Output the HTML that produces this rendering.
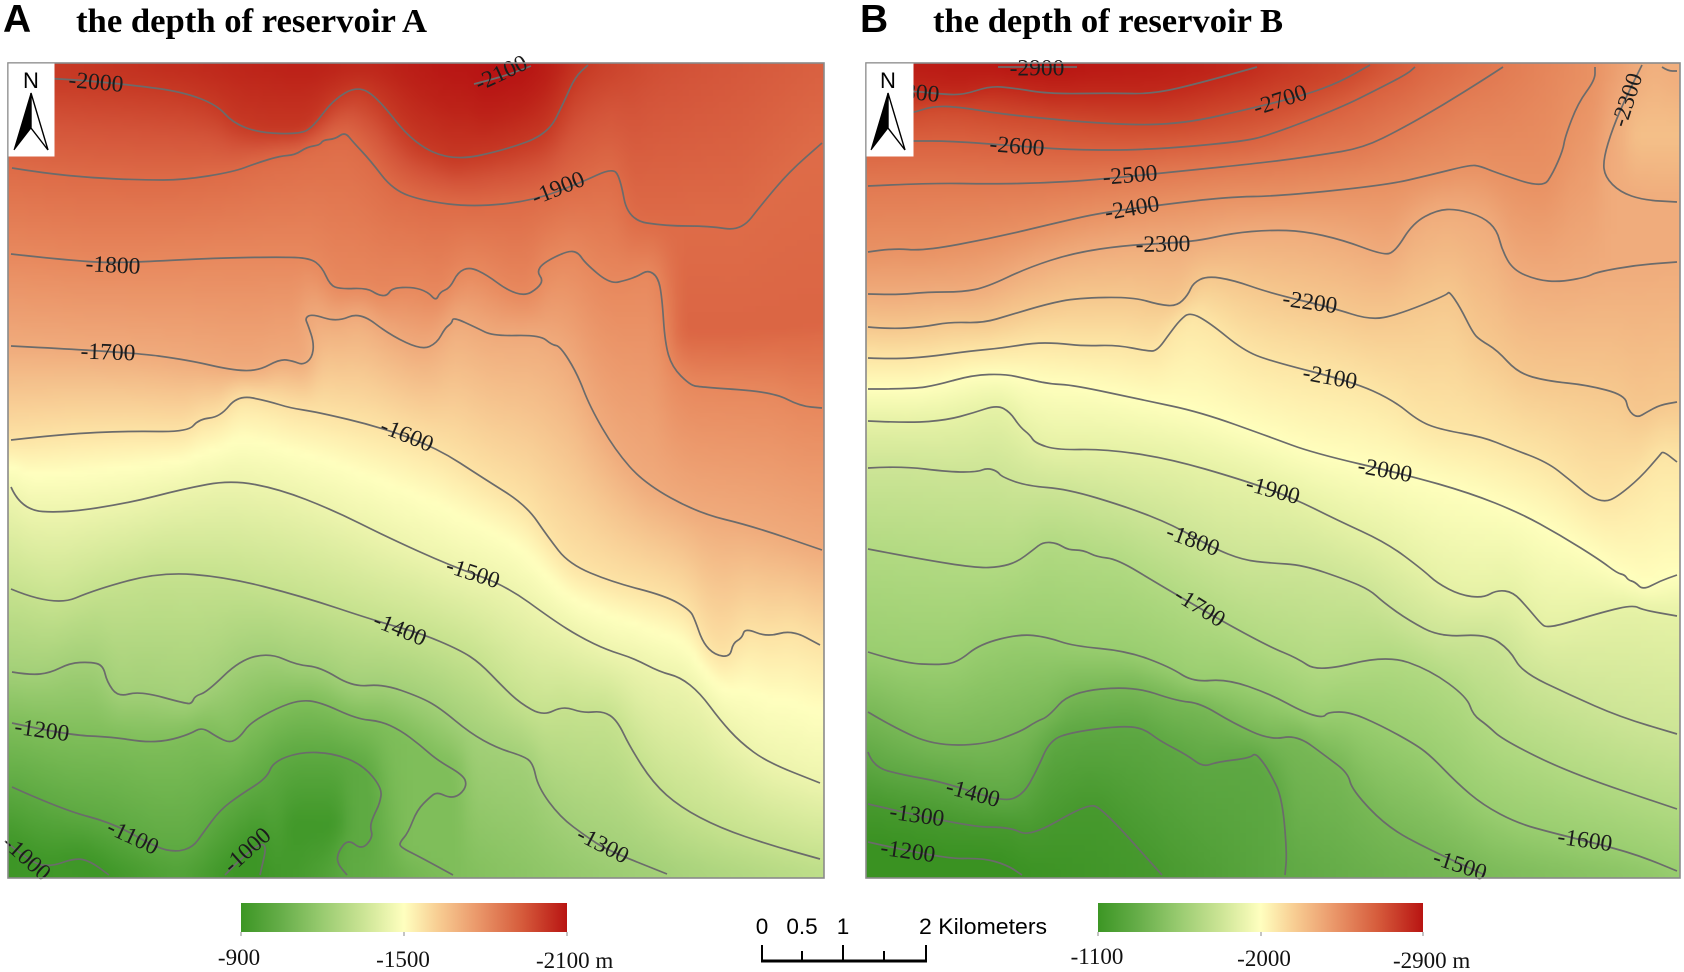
<!DOCTYPE html>
<html lang="en">
<head>
<meta charset="utf-8">
<title>Depth of reservoirs A and B</title>
<style>
html,body{margin:0;padding:0;background:#fff;}
#stage{position:relative;width:1684px;height:972px;overflow:hidden;background:#fff;}
canvas{position:absolute;display:block;}
#overlay{position:absolute;left:0;top:0;}
</style>
</head>
<body>
<div id="stage">
<canvas id="fieldA" style="left:8px;top:63px;width:816px;height:815px"></canvas>
<canvas id="fieldB" style="left:866px;top:63px;width:814px;height:815px"></canvas>
<svg id="overlay" width="1684" height="972" viewBox="0 0 1684 972" xmlns="http://www.w3.org/2000/svg">
<defs>
<linearGradient id="legendRamp" x1="0" x2="1" y1="0" y2="0">
<stop offset="0" stop-color="#3c9624"/><stop offset="0.12" stop-color="#65ad48"/><stop offset="0.25" stop-color="#99cb70"/><stop offset="0.38" stop-color="#cde596"/><stop offset="0.5" stop-color="#ffffbf"/><stop offset="0.6" stop-color="#f8cf94"/><stop offset="0.72" stop-color="#eb9a6c"/><stop offset="0.86" stop-color="#d65c3c"/><stop offset="1" stop-color="#b81412"/>
</linearGradient>
</defs>
<g id="contoursA"></g>
<g id="contoursB"></g>
<rect x="8" y="63" width="816" height="815" fill="none" stroke="#8a8a8a" stroke-width="1.6"/>
<rect x="866" y="63" width="814" height="815" fill="none" stroke="#8a8a8a" stroke-width="1.6"/>

<text x="3" y="32" font-family="'Liberation Sans',sans-serif" font-weight="700" font-size="39" fill="#000">A</text>
<text x="76" y="32" font-family="'Liberation Serif',serif" font-weight="700" font-size="34" fill="#000" textLength="351" lengthAdjust="spacingAndGlyphs">the depth of reservoir A</text>
<text x="860" y="32" font-family="'Liberation Sans',sans-serif" font-weight="700" font-size="39" fill="#000">B</text>
<text x="933" y="32" font-family="'Liberation Serif',serif" font-weight="700" font-size="34" fill="#000" textLength="350" lengthAdjust="spacingAndGlyphs">the depth of reservoir B</text>

<g>
<rect x="8.5" y="63.5" width="46" height="93" fill="#fff"/>
<text x="31" y="88" text-anchor="middle" font-family="'Liberation Sans',sans-serif" font-size="22" fill="#000">N</text>
<polygon points="31,93 14,150 31,128" fill="#000" stroke="#000" stroke-width="1"/>
<polygon points="31,93 48,150 31,128" fill="#fff" stroke="#000" stroke-width="1.4"/>
</g>
<g>
<rect x="866.5" y="63.5" width="47" height="93" fill="#fff"/>
<text x="888" y="88" text-anchor="middle" font-family="'Liberation Sans',sans-serif" font-size="22" fill="#000">N</text>
<polygon points="888,93 871,150 888,128" fill="#000" stroke="#000" stroke-width="1"/>
<polygon points="888,93 905,150 888,128" fill="#fff" stroke="#000" stroke-width="1.4"/>
</g>

<g font-family="'Liberation Serif',serif" font-size="23" fill="#111">
<rect x="241" y="903" width="326" height="29" fill="url(#legendRamp)"/>
<path d="M241 932v4M404 932v4M567 932v4" stroke="#888" stroke-width="1" fill="none"/>
<text x="239" y="965" text-anchor="middle">-900</text>
<text x="403" y="967" text-anchor="middle">-1500</text>
<text x="536" y="968">-2100 m</text>
</g>
<g font-family="'Liberation Serif',serif" font-size="23" fill="#111">
<rect x="1098" y="903" width="325" height="29" fill="url(#legendRamp)"/>
<path d="M1098 932v4M1261 932v4M1423 932v4" stroke="#888" stroke-width="1" fill="none"/>
<text x="1097" y="964" text-anchor="middle">-1100</text>
<text x="1264" y="966" text-anchor="middle">-2000</text>
<text x="1393" y="968">-2900 m</text>
</g>
<g font-family="'Liberation Sans',sans-serif" font-size="22.5" fill="#000">
<text x="762" y="934" text-anchor="middle">0</text>
<text x="802" y="934" text-anchor="middle">0.5</text>
<text x="843" y="934" text-anchor="middle">1</text>
<text x="919" y="934" textLength="128" lengthAdjust="spacingAndGlyphs">2 Kilometers</text>
<path d="M762 945V961M926 945V961M802 951V961M843 945V961M884 951V961" fill="none" stroke="#000" stroke-width="2"/>
<path d="M761 961H927" fill="none" stroke="#000" stroke-width="3"/>
</g>
</svg>
</div>
<script>
/* Contour vertices are [map x, map y]; levels are depth in metres. */
const contourA2100 = [[474,84],[490,80],[510,74],[531,66]];
const contourA2000 = [[8,77],[55,78],[133,85],[183,92],[217,105],[233,123],[260,133],[300,134],[313,127],[333,100],[357,86],[377,97],[413,143],[453,161],[505,150],[548,134],[564,102],[575,77],[588,65]];
const contourA1900 = [[12,168],[43,173],[93,178],[143,180],[183,180],[233,172],[257,163],[280,156],[295,155],[307,147],[320,145],[323,140],[335,139],[345,132],[353,142],[370,160],[393,190],[424,201],[473,207],[532,201],[580,183],[612,168],[620,177],[628,220],[666,226],[709,226],[741,231],[762,204],[789,172],[822,143]];
const contourA1800 = [[11,254],[91,263],[140,262],[215,258],[280,257],[310,258],[322,267],[330,285],[340,289],[367,288],[378,295],[387,296],[392,288],[413,287],[428,292],[436,301],[440,292],[450,288],[458,272],[470,267],[487,275],[507,290],[525,296],[538,288],[543,280],[537,272],[543,263],[567,251],[578,252],[585,263],[610,284],[627,280],[638,276],[648,270],[658,277],[662,297],[665,343],[672,367],[690,385],[700,387],[773,392],[800,406],[822,408]];
const contourA1700 = [[11,346],[129,352],[188,360],[231,370],[258,371],[280,359],[293,361],[303,365],[312,358],[314,343],[308,325],[305,318],[312,314],[337,322],[360,312],[390,335],[422,350],[437,343],[445,328],[452,323],[453,317],[477,328],[493,336],[540,335],[552,345],[560,346],[577,373],[590,407],[615,450],[644,483],[698,513],[752,526],[822,550]];
const contourA1600 = [[11,440],[64,434],[129,431],[188,432],[199,419],[220,417],[238,395],[268,401],[290,408],[317,412],[380,427],[437,448],[483,478],[526,505],[548,537],[569,564],[612,582],[666,596],[690,610],[695,620],[703,643],[715,655],[730,657],[733,643],[742,638],[745,628],[767,637],[792,630],[820,645]];
const contourA1500 = [[11,487],[21,510],[64,513],[129,503],[183,489],[231,480],[279,489],[333,510],[387,537],[451,566],[505,585],[553,620],[580,637],[607,650],[633,658],[660,672],[680,677],[700,693],[720,720],[740,742],[767,762],[820,783]];
const contourA1400 = [[11,589],[54,607],[97,589],[161,572],[226,577],[301,596],[376,621],[420,633],[460,650],[480,663],[503,687],[520,703],[543,716],[563,706],[583,713],[603,711],[617,720],[630,747],[653,783],[680,807],[720,828],[770,845],[820,859]];
const contourA1300 = [[12,672],[30,675],[50,673],[70,663],[90,662],[103,665],[107,682],[118,697],[140,691],[187,704],[192,703],[195,696],[207,692],[240,660],[270,653],[297,665],[320,667],[353,687],[383,684],[420,697],[440,708],[470,733],[497,748],[523,756],[533,763],[538,787],[560,817],[587,837],[607,850],[667,874]];
const contourA1200 = [[12,723],[67,735],[113,737],[143,742],[167,741],[190,734],[202,727],[217,737],[230,743],[240,737],[250,723],[277,708],[300,700],[320,702],[357,719],[380,721],[400,730],[420,745],[437,760],[463,775],[467,785],[460,795],[450,798],[437,792],[430,797],[417,810],[408,833],[400,842],[400,847],[420,857],[453,875]];
const contourA1100 = [[12,787],[63,810],[113,823],[157,848],[177,852],[193,847],[203,833],[220,810],[240,795],[267,778],[273,762],[300,752],[333,753],[363,765],[382,788],[380,803],[373,817],[370,827],[373,837],[362,850],[348,839],[338,852],[337,863],[347,875]];
const contourA1000West = [[5,841],[30,862],[50,867],[75,858],[90,861],[109,875]];
const contourA1000Centre = [[225,875],[247,852],[268,840],[260,875]];

const contourB2900 = [[998,67],[1077,67]];
const contourB2800 = [[866,90],[913,91],[940,94],[963,95],[990,86],[1013,88],[1050,94],[1110,93],[1153,94],[1200,83],[1257,67]];
const contourB2700 = [[866,122],[913,113],[933,106],[960,107],[1007,115],[1117,125],[1183,124],[1253,108],[1305,95],[1340,82],[1370,65]];
const contourB2600 = [[866,141],[913,141],[950,141],[1017,146],[1073,150],[1147,150],[1240,142],[1270,135],[1340,108],[1380,88],[1407,74],[1415,67]];
const contourB2500 = [[868,186],[927,183],[993,184],[1043,183],[1093,180],[1173,172],[1270,162],[1320,155],[1363,148],[1403,128],[1443,105],[1483,80],[1503,67]];
const contourB2400 = [[868,252],[893,248],[923,251],[993,238],[1060,222],[1100,213],[1160,205],[1227,197],[1280,196],[1387,185],[1430,175],[1470,165],[1480,166],[1497,173],[1543,188],[1553,173],[1563,150],[1565,137],[1578,103],[1595,80],[1595,67]];
const contourB2300 = [[868,294],[897,295],[927,292],[963,292],[987,287],[1027,268],[1073,253],[1127,245],[1193,242],[1233,233],[1270,230],[1303,231],[1343,240],[1383,255],[1395,252],[1413,223],[1437,210],[1457,209],[1483,217],[1497,230],[1502,250],[1513,270],[1537,280],[1560,282],[1587,277],[1597,272],[1637,265],[1677,262]];
const contourB2300East = [[1642,65],[1628,93],[1613,127],[1603,160],[1605,177],[1620,192],[1643,200],[1677,202]];
const contourB2300Corner = [[1662,67],[1668,71],[1677,71]];
const contourB2200 = [[868,327],[890,329],[923,327],[950,322],[983,323],[1010,315],[1047,304],[1077,298],[1133,297],[1160,305],[1177,306],[1188,295],[1193,283],[1207,276],[1233,280],[1270,293],[1333,308],[1370,320],[1397,315],[1447,295],[1449,291],[1460,307],[1473,333],[1480,340],[1497,350],[1518,373],[1547,381],[1587,385],[1625,395],[1628,410],[1637,418],[1647,412],[1660,405],[1677,402]];
const contourB2100 = [[868,358],[893,359],[927,357],[970,351],[1003,348],[1033,343],[1057,343],[1083,346],[1117,345],[1147,351],[1157,351],[1170,333],[1180,320],[1190,312],[1210,323],[1243,350],[1270,361],[1353,382],[1393,400],[1420,422],[1443,430],[1483,437],[1510,448],[1547,462],[1570,480],[1590,497],[1605,502],[1617,497],[1640,478],[1660,455],[1663,451],[1677,462]];
const contourB2000 = [[868,389],[913,389],[937,385],[973,375],[1005,374],[1027,379],[1050,384],[1073,385],[1143,400],[1200,412],[1270,437],[1313,453],[1407,475],[1470,493],[1520,513],[1560,535],[1600,560],[1617,573],[1625,575],[1628,580],[1635,582],[1643,590],[1660,581],[1677,575]];
const contourB1900 = [[868,421],[910,423],[947,420],[973,413],[997,405],[1010,412],[1020,427],[1030,435],[1035,443],[1057,450],[1103,449],[1167,458],[1243,480],[1293,498],[1337,520],[1387,543],[1423,570],[1437,583],[1460,595],[1483,598],[1497,590],[1513,592],[1527,607],[1542,625],[1547,627],[1560,625],[1603,612],[1633,605],[1643,610],[1677,616]];
const contourB1800 = [[868,468],[900,466],[950,472],[977,472],[987,468],[997,471],[1002,477],[1027,486],[1067,489],[1127,507],[1173,525],[1213,548],[1243,560],[1270,563],[1303,565],[1347,580],[1370,590],[1383,602],[1408,620],[1440,637],[1487,634],[1510,650],[1522,672],[1570,695],[1620,717],[1677,734]];
const contourB1700 = [[868,549],[920,559],[977,568],[1000,567],[1017,562],[1033,550],[1043,542],[1057,543],[1068,550],[1083,550],[1097,557],[1117,559],[1160,585],[1220,620],[1270,647],[1297,658],[1318,672],[1387,655],[1430,670],[1467,697],[1473,715],[1487,725],[1503,740],[1570,773],[1677,809]];
const contourB1600 = [[868,652],[903,663],[940,665],[958,662],[980,644],[1020,634],[1047,637],[1073,646],[1127,651],[1170,667],[1193,682],[1227,679],[1270,694],[1303,712],[1323,718],[1328,712],[1350,712],[1380,725],[1413,743],[1430,755],[1457,783],[1483,805],[1517,823],[1553,833],[1610,847],[1643,857],[1677,871]];
const contourB1500 = [[868,712],[893,727],[933,745],[983,745],[1020,732],[1037,721],[1048,717],[1070,692],[1133,686],[1177,701],[1200,703],[1233,723],[1270,740],[1297,735],[1327,757],[1348,773],[1352,790],[1387,827],[1430,850],[1485,875]];
const contourB1400 = [[868,752],[873,767],[903,775],[943,782],[1003,802],[1023,795],[1037,770],[1050,740],[1073,732],[1120,726],[1143,728],[1160,741],[1187,755],[1203,767],[1217,762],[1250,758],[1255,753],[1263,762],[1270,773],[1282,797],[1287,853],[1285,875]];
const contourB1300 = [[868,804],[967,827],[1010,827],[1030,837],[1087,804],[1102,808],[1162,875]];
const contourB1200 = [[868,842],[943,859],[983,858],[1007,865],[1022,875]];

const contourLevelsA = [-2100,-2000,-1900,-1800,-1700,-1600,-1500,-1400,-1300,-1200,-1100,-1000,-1000];
const contourLinesA = [contourA2100,contourA2000,contourA1900,contourA1800,contourA1700,contourA1600,contourA1500,contourA1400,contourA1300,contourA1200,contourA1100,contourA1000West,contourA1000Centre];
const contourLevelsB = [-2900,-2800,-2700,-2600,-2500,-2400,-2300,-2300,-2300,-2200,-2100,-2000,-1900,-1800,-1700,-1600,-1500,-1400,-1300,-1200];
const contourLinesB = [contourB2900,contourB2800,contourB2700,contourB2600,contourB2500,contourB2400,contourB2300,contourB2300East,contourB2300Corner,contourB2200,contourB2100,contourB2000,contourB1900,contourB1800,contourB1700,contourB1600,contourB1500,contourB1400,contourB1300,contourB1200];

/* Printed contour labels: [level, x, y, angle] */
const labelsA = [[-2000,96,82,5],[-2100,501,73,-25],[-1900,558,188,-22],[-1800,113,265,3],[-1700,108,352,2],[-1600,407,435,22],[-1500,473,573,18],[-1400,400,629,22],[-1300,603,845,27],[-1200,42,730,8],[-1100,133,837,25],[-1000,27,858,42],[-1000,247,850,-42]];
const labelsB = [[-2900,1037,68,0],[-2800,912,92,5],[-2700,1280,100,-18],[-2600,1017,146,5],[-2500,1130,175,-5],[-2400,1132,208,-10],[-2300,1163,244,-1],[-2300,1627,100,-72],[-2200,1310,302,8],[-2100,1330,377,10],[-2000,1385,470,10],[-1900,1273,490,15],[-1800,1193,540,20],[-1700,1200,607,32],[-1600,1585,840,8],[-1500,1460,865,18],[-1400,973,793,15],[-1300,917,815,8],[-1200,908,851,8]];

/* Depth along the top and bottom map edges: [x, depth] */
const topEdgeA = [[8,-1985],[150,-2030],[300,-2060],[380,-2050],[450,-2095],[530,-2100],[588,-2000],[650,-1965],[822,-1925]];
const bottomEdgeA = [[8,-1000],[60,-1020],[109,-1000],[180,-1060],[225,-1000],[260,-1000],[300,-1030],[347,-1100],[400,-1140],[453,-1200],[560,-1250],[667,-1300],[822,-1365]];
const topEdgeB = [[866,-2860],[998,-2900],[1077,-2900],[1200,-2860],[1257,-2800],[1370,-2700],[1415,-2600],[1503,-2500],[1595,-2400],[1642,-2300],[1680,-2260]];
const bottomEdgeB = [[866,-1150],[1022,-1200],[1162,-1300],[1285,-1400],[1485,-1500],[1680,-1570]];

/* Undrawn depth hints where no contour describes the raster */
const hintLineA1 = [[672,335],[740,335],[822,325]];
const hintLineA2 = [[285,825],[345,825]];
const hintLinesA = [hintLineA1,hintLineA2];
const hintLevelsA = [-1915,-1010];
const hintLineB1 = [[1625,135],[1680,135]];
const hintLinesB = [hintLineB1];
const hintLevelsB = [-2225];

/* Colour ramps read from the rasters: depth to colour */
const rampDepthsA = [-2100,-2050,-2000,-1950,-1900,-1800,-1700,-1600,-1550,-1500,-1400,-1300,-1200,-1100,-1000,-950];
const rampColorsA = ['#b71313','#bd2319','#c73a25','#d4553a','#de6c48','#e8895e','#f0ab7c','#fde3a5','#ffffbf','#eef5ae','#c6e28e','#a3d078','#7fbe5a','#5eaa42','#3d9626','#389222'];
const rampDepthsB = [-2900,-2800,-2700,-2600,-2500,-2400,-2300,-2200,-2100,-2000,-1900,-1800,-1700,-1600,-1500,-1400,-1300,-1200];
const rampColorsB = ['#b81412','#c22a1c','#cf4a2e','#da6240','#e27a52','#e99264','#f0ac7c','#f6c88e','#fde6a6','#ffffbd','#e6f2a6','#cde596','#b2da82','#9ace70','#78b856','#5ea843','#47992e','#3a9222'];

const SVGNS = 'http://www.w3.org/2000/svg';
const CELL = 6;

function hexToRgb(h){
  return [parseInt(h.slice(1,3),16),parseInt(h.slice(3,5),16),parseInt(h.slice(5,7),16)];
}
function depthColor(v,depths,colors){
  if(v<=depths[0]) return hexToRgb(colors[0]);
  for(let i=1;i<depths.length;i++){
    if(v<=depths[i]){
      const t=(v-depths[i-1])/(depths[i]-depths[i-1]);
      const a=hexToRgb(colors[i-1]),b=hexToRgb(colors[i]);
      return [a[0]+(b[0]-a[0])*t,a[1]+(b[1]-a[1])*t,a[2]+(b[2]-a[2])*t];
    }
  }
  return hexToRgb(colors[colors.length-1]);
}
function edgeDepth(edge,x){
  if(x<=edge[0][0]) return edge[0][1];
  for(let i=1;i<edge.length;i++){
    if(x<=edge[i][0]){
      const t=(x-edge[i-1][0])/(edge[i][0]-edge[i-1][0]);
      return edge[i-1][1]+(edge[i][1]-edge[i-1][1])*t;
    }
  }
  return edge[edge.length-1][1];
}
function crossings(lines,levels,x,left,right){
  const out=[];
  lines.forEach(function(pts,k){
    for(let i=1;i<pts.length;i++){
      const a=pts[i-1],b=pts[i];
      const lo=Math.min(a[0],b[0]),hi=Math.max(a[0],b[0]);
      if(x>=lo&&x<hi&&hi>lo){
        out.push([a[1]+(b[1]-a[1])*(x-a[0])/(b[0]-a[0]),levels[k]]);
      }
    }
    const first=pts[0],last=pts[pts.length-1];
    if(first[0]-left<=14&&x<first[0]) out.push([first[1],levels[k]]);
    if(right-last[0]<=14&&x>=last[0]) out.push([last[1],levels[k]]);
  });
  return out.sort(function(p,q){return p[0]-q[0];});
}
function drawField(id,left,top,width,height,lines,levels,topEdge,bottomEdge,depths,colors){
  const cv=document.getElementById(id);
  const cols=Math.ceil(width/CELL),rows=Math.ceil(height/CELL);
  cv.width=cols;cv.height=rows;
  let grid=new Float64Array(cols*rows);
  for(let c=0;c<cols;c++){
    const x=left+(c+0.5)*width/cols;
    const list=crossings(lines,levels,x,left,left+width);
    list.unshift([top,edgeDepth(topEdge,x)]);
    list.push([top+height,edgeDepth(bottomEdge,x)]);
    let s=0;
    for(let r=0;r<rows;r++){
      const y=top+(r+0.5)*height/rows;
      while(s<list.length-2&&y>list[s+1][0]) s++;
      const a=list[s],b=list[s+1];
      const span=b[0]-a[0];
      const t=span>0?Math.min(1,Math.max(0,(y-a[0])/span)):0;
      grid[r*cols+c]=a[1]+(b[1]-a[1])*t;
    }
  }
  for(let pass=0;pass<2;pass++){
    const next=new Float64Array(cols*rows);
    for(let r=0;r<rows;r++){
      for(let c=0;c<cols;c++){
        let sum=0,n=0;
        for(let dr=-1;dr<=1;dr++){
          for(let dc=-1;dc<=1;dc++){
            const rr=r+dr,cc=c+dc;
            if(rr>=0&&rr<rows&&cc>=0&&cc<cols){sum+=grid[rr*cols+cc];n++;}
          }
        }
        next[r*cols+c]=sum/n;
      }
    }
    grid=next;
  }
  const ctx=cv.getContext('2d');
  const img=ctx.createImageData(cols,rows);
  for(let i=0;i<cols*rows;i++){
    const rgb=depthColor(grid[i],depths,colors);
    img.data[i*4]=rgb[0];
    img.data[i*4+1]=rgb[1];
    img.data[i*4+2]=rgb[2];
    img.data[i*4+3]=255;
  }
  ctx.putImageData(img,0,0);
}
function smoothPath(pts){
  let d='M'+pts[0][0]+' '+pts[0][1];
  for(let i=1;i<pts.length-1;i++){
    const mx=(pts[i][0]+pts[i+1][0])/2,my=(pts[i][1]+pts[i+1][1])/2;
    d+='Q'+pts[i][0]+' '+pts[i][1]+' '+mx+' '+my;
  }
  const e=pts[pts.length-1];
  return d+'L'+e[0]+' '+e[1];
}
function drawContours(groupId,prefix,lines,levels,labels){
  const g=document.getElementById(groupId);
  lines.forEach(function(pts,k){
    const path=document.createElementNS(SVGNS,'path');
    path.setAttribute('d',smoothPath(pts));
    path.setAttribute('fill','none');
    path.setAttribute('stroke','#6b6b6b');
    path.setAttribute('stroke-width','1.7');
    path.setAttribute('stroke-linejoin','round');
    
    
    g.appendChild(path);
  });
  labels.forEach(function(l){
    const t=document.createElementNS(SVGNS,'text');
    t.setAttribute('x',l[1]);
    t.setAttribute('y',l[2]+7.5);
    t.setAttribute('text-anchor','middle');
    t.setAttribute('font-family',"'Liberation Serif',serif");
    t.setAttribute('font-size','23.5');
    t.setAttribute('fill','#1c1c1c');
    t.setAttribute('transform','rotate('+l[3]+' '+l[1]+' '+l[2]+')');
    
    
    t.textContent=String(l[0]);
    g.appendChild(t);
  });
}

drawField('fieldA',8,63,816,815,contourLinesA.concat(hintLinesA),contourLevelsA.concat(hintLevelsA),topEdgeA,bottomEdgeA,rampDepthsA,rampColorsA);
drawField('fieldB',866,63,814,815,contourLinesB.concat(hintLinesB),contourLevelsB.concat(hintLevelsB),topEdgeB,bottomEdgeB,rampDepthsB,rampColorsB);
drawContours('contoursA','map-a',contourLinesA,contourLevelsA,labelsA);
drawContours('contoursB','map-b',contourLinesB,contourLevelsB,labelsB);
</script>
</body>
</html>
